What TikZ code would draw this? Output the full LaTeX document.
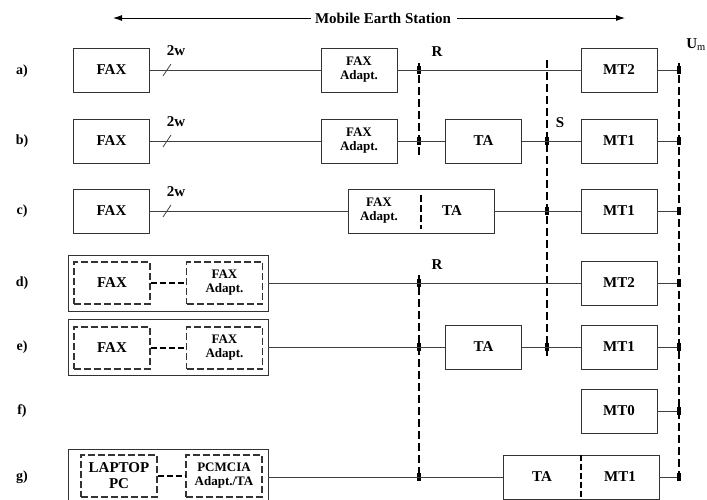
\documentclass[tikz,border=0pt]{standalone}
\usepackage{fontspec}
\setmainfont{Liberation Serif}
\usetikzlibrary{arrows.meta}
\tikzset{
 box/.style
  = {rectangle, draw=black!80, line width=0.9pt, minimum width=76pt, minimum height=44pt,
     inner sep=0pt, align=center, font=\fontsize{15}{16}\selectfont\bfseries},
 sbox/.style
  = {box, font=\fontsize{13}{14}\selectfont\bfseries},
 dbox/.style
  = {box, minimum height=42pt, line width=1.3pt, dash pattern=on 7pt off 3pt},
 obox/.style
  = {rectangle, draw=black!80, line width=0.9pt, minimum width=200pt, minimum height=56pt},
 txt/.style
  = {inner sep=0pt, align=center, font=\fontsize{15}{16}\selectfont\bfseries},
 stxt/.style
  = {txt, font=\fontsize{13}{14}\selectfont\bfseries},
 wire/.style
  = {draw=black!75, line width=0.8pt},
 vline/.style
  = {draw, line width=1.5pt, dash pattern=on 8pt off 4pt},
 tk/.style
  = {rectangle, fill=black, minimum width=3.5pt, minimum height=8pt, inner sep=0pt},
}

\begin{document}
\begin{tikzpicture}[x=1pt, y=-1pt]
\useasboundingbox (0,0) rectangle (707,499);

% Mobile Earth Station
\node[txt] (mes) at (383,18) {Mobile Earth Station};
\coordinate (mesl) at (113,18);
\coordinate (mesr) at (625,18);
\draw[-{Latex[length=9pt,width=6pt]}, line width=0.9pt] (mes.west) ++(-4,0) -- (mesl);
\draw[-{Latex[length=9pt,width=6pt]}, line width=0.9pt] (mes.east) ++(6,0) -- (mesr);

% Row labels
\foreach \y/\n in {71/a,141/b,211/c,283/d,347/e,411/f,477/g}
  \node[txt, font=\fontsize{14}{15}\selectfont\bfseries] (lab\n) at (22,\y) {\n)};

% Reference points
\node[txt] (Ra) at (437,52) {R};
\node[txt] (Rd) at (437,265) {R};
\node[txt] (Sb) at (560,123) {S};
\node[txt, anchor=east] (Um) at (706,45) {U$_{\mathrm{m}}$};

% Dashed boundaries
\coordinate (R1) at (419,63);
\coordinate (R2) at (419,157);
\coordinate (R3) at (419,275);
\coordinate (R4) at (419,477);
\coordinate (S1) at (547,60);
\coordinate (S2) at (547,357);
\coordinate (U1) at (679,63);
\coordinate (U2) at (679,477);
\draw[vline] (R1) -- (R2);
\draw[vline] (R3) -- (R4);
\draw[vline] (S1) -- (S2);
\draw[vline] (U1) -- (U2);

% Row a
\node[box] (fa) at (111.5,70) {FAX};
\node[sbox] (fadpa) at (359,70) {FAX\\Adapt.};
\node[box] (mta) at (619,70) {MT2};

% Row b
\node[box] (fb) at (111.5,141) {FAX};
\node[sbox] (fadpb) at (359,141) {FAX\\Adapt.};
\node[box] (tab) at (483.5,141) {TA};
\node[box] (mtb) at (619,141) {MT1};

% Row c
\node[box] (fc) at (111.5,211) {FAX};
\node[box, minimum width=146pt] (cbox) at (421,211) {};
\node[stxt] (cfa) at (379,211) {FAX\\Adapt.};
\node[txt] (cta) at (452,211) {TA};
\draw[line width=1.3pt, dash pattern=on 7pt off 3pt] ([yshift=-6pt]cbox.north) -- ([yshift=4pt]cbox.south);
\node[box] (mtc) at (619,211) {MT1};

% 2-wire marks
\foreach \y/\n in {70/a,141/b,211/c} {
  \node[txt] (tw\n) at (176,\y-19) {2w};
  \draw[wire] (163,\y+6) -- (171,\y-6);
}

% Row d
\node[obox] (dout) at (168,283) {};
\node[dbox] (dfax) at (112,283) {FAX};
\node[dbox, font=\fontsize{13}{14}\selectfont\bfseries] (dadp) at (224.5,283) {FAX\\Adapt.};
\draw[line width=1.3pt, dash pattern=on 6pt off 3pt] (dfax) -- (dadp);
\node[box] (mtd) at (619,283) {MT2};

% Row e
\node[obox] (eout) at (168,347) {};
\node[dbox] (efax) at (112,348) {FAX};
\node[dbox, font=\fontsize{13}{14}\selectfont\bfseries] (eadp) at (224.5,348) {FAX\\Adapt.};
\draw[line width=1.3pt, dash pattern=on 6pt off 3pt] (efax) -- (eadp);
\node[box] (tae) at (483.5,347) {TA};
\node[box] (mte) at (619,347) {MT1};

% Row f
\node[box] (mtf) at (619,411) {MT0};

% Row g
\node[obox] (gout) at (168,477) {};
\node[dbox] (glap) at (119,476) {LAPTOP\\PC};
\node[dbox, font=\fontsize{13}{14}\selectfont\bfseries] (gpc) at (224,476) {PCMCIA\\Adapt./TA};
\draw[line width=1.3pt, dash pattern=on 6pt off 3pt] (glap) -- (gpc);
\node[box, minimum width=156pt] (gbox) at (581,477) {};
\node[txt] (gta) at (542,477) {TA};
\node[txt] (gmt) at (620,477) {MT1};
\draw[line width=1.3pt, dash pattern=on 6pt off 3pt] (gbox.north) -- (gbox.south);

% Ticks
\foreach \y/\n in {70/a,141/b,283/d,347/e,477/g}
  \node[tk] (r\n) at (419,\y) {};
\foreach \y/\n in {141/b,211/c,347/e}
  \node[tk] (s\n) at (547,\y) {};
\foreach \y/\n in {70/a,141/b,211/c,283/d,347/e,411/f,477/g}
  \node[tk] (u\n) at (679,\y) {};

% Wires
\draw[wire] (fa) -- (fadpa);
\draw[wire] (fadpa) -- (mta);
\draw[wire] (mta) -- (ua);
\draw[wire] (fb) -- (fadpb);
\draw[wire] (fadpb) -- (tab);
\draw[wire] (tab) -- (mtb);
\draw[wire] (mtb) -- (ub);
\draw[wire] (fc) -- (cbox);
\draw[wire] (cbox) -- (mtc);
\draw[wire] (mtc) -- (uc);
\draw[wire] (dout) -- (mtd);
\draw[wire] (mtd) -- (ud);
\draw[wire] (eout) -- (tae);
\draw[wire] (tae) -- (mte);
\draw[wire] (mte) -- (ue);
\draw[wire] (mtf) -- (uf);
\draw[wire] (gout) -- (gbox);
\draw[wire] (gbox) -- (ug);

\end{tikzpicture}
\end{document}
